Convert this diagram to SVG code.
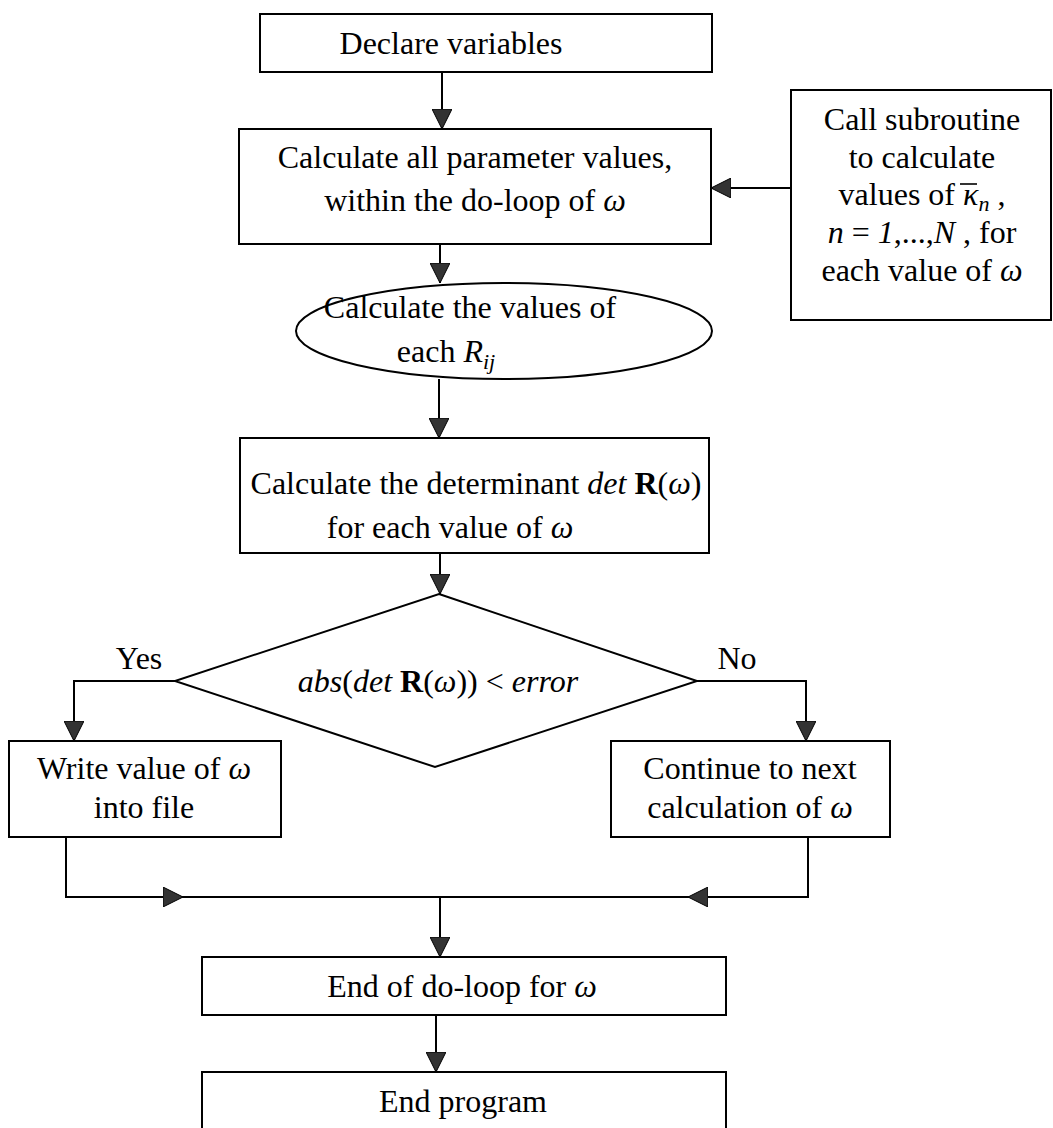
<svg xmlns="http://www.w3.org/2000/svg" width="1053" height="1128" viewBox="0 0 1053 1128">
  <defs>
    <style>
      .box { fill: #ffffff; stroke: #000000; stroke-width: 2; }
      .t { font-family: "Liberation Serif", "Times New Roman", serif; font-size: 32px; fill: #000000; text-anchor: middle; }
      .i { font-style: italic; }
      .b { font-weight: bold; }
      .wire { fill: none; stroke: #000000; stroke-width: 2; }
    </style>
    <marker id="arrow" viewBox="0 0 20 20" refX="20" refY="10" markerWidth="20" markerHeight="20" markerUnits="userSpaceOnUse" orient="auto">
      <path d="M0,0 L20,10 L0,20 Z" fill="#333333" stroke="#000000" stroke-width="1"/>
    </marker>
  </defs>

  <rect x="0" y="0" width="1053" height="1128" fill="#ffffff"/>

  <g id="declare">
    <rect class="box" x="260" y="14" width="452" height="58"/>
    <text class="t" x="451" y="54">Declare variables</text>
  </g>

  <g id="calc-params">
    <rect class="box" x="239" y="129" width="472" height="115"/>
    <text class="t" x="475" y="168">Calculate all parameter values,</text>
    <text class="t" x="475" y="211">within the do-loop of <tspan class="i">ω</tspan></text>
  </g>

  <g id="subroutine">
    <rect class="box" x="791" y="90" width="260" height="230"/>
    <text class="t" x="922" y="130">Call subroutine</text>
    <text class="t" x="922" y="168">to calculate</text>
    <text class="t" x="922" y="205">values of <tspan class="i">κ</tspan><tspan class="i" font-size="22" dy="6">n</tspan><tspan dy="-6"> ,</tspan></text>
    <!-- bar over kappa -->
    <line x1="960" y1="184" x2="977" y2="184" stroke="#000000" stroke-width="1.6"/>
    <text class="t" x="922" y="243"><tspan class="i">n</tspan> = <tspan class="i">1</tspan>,...,<tspan class="i">N</tspan> , for</text>
    <text class="t" x="922" y="281">each value of <tspan class="i">ω</tspan></text>
  </g>

  <g id="calc-rij">
    <ellipse class="box" cx="504" cy="331" rx="208" ry="48"/>
    <text class="t" x="470" y="318">Calculate the values of</text>
    <text class="t" x="446" y="362">each <tspan class="i">R</tspan><tspan class="i" font-size="22" dy="7">ij</tspan></text>
  </g>

  <g id="determinant">
    <rect class="box" x="240" y="438" width="469" height="115"/>
    <text class="t" x="476" y="494">Calculate the determinant <tspan class="i">det</tspan> <tspan class="b">R</tspan>(<tspan class="i">ω</tspan>)</text>
    <text class="t" x="450" y="538">for each value of <tspan class="i">ω</tspan></text>
  </g>

  <g id="decision">
    <polygon class="box" points="439,594 697,681 435,767 175,681"/>
    <text class="t" x="438" y="692"><tspan class="i">abs</tspan>(<tspan class="i">det</tspan> <tspan class="b">R</tspan>(<tspan class="i">ω</tspan>)) &lt; <tspan class="i">error</tspan></text>
  </g>

  <g id="write-value">
    <rect class="box" x="9" y="741" width="272" height="96"/>
    <text class="t" x="144" y="779">Write value of <tspan class="i">ω</tspan></text>
    <text class="t" x="144" y="818">into file</text>
  </g>

  <g id="continue">
    <rect class="box" x="611" y="741" width="279" height="96"/>
    <text class="t" x="750" y="779">Continue to next</text>
    <text class="t" x="750" y="818">calculation of <tspan class="i">ω</tspan></text>
  </g>

  <g id="end-loop">
    <rect class="box" x="202" y="957" width="524" height="58"/>
    <text class="t" x="462" y="997">End of do-loop for <tspan class="i">ω</tspan></text>
  </g>

  <g id="end-program">
    <rect class="box" x="202" y="1072" width="524" height="70"/>
    <text class="t" x="463" y="1112">End program</text>
  </g>

  <g id="labels">
    <text class="t" x="139" y="669">Yes</text>
    <text class="t" x="737" y="669">No</text>
  </g>

  <g id="connectors">
    <line class="wire" x1="442" y1="72" x2="442" y2="129" marker-end="url(#arrow)"/>
    <line class="wire" x1="791" y1="188" x2="711" y2="188" marker-end="url(#arrow)"/>
    <line class="wire" x1="440" y1="244" x2="440" y2="283" marker-end="url(#arrow)"/>
    <line class="wire" x1="439" y1="379" x2="439" y2="438" marker-end="url(#arrow)"/>
    <line class="wire" x1="440" y1="553" x2="440" y2="594" marker-end="url(#arrow)"/>
    <polyline class="wire" points="175,681 74,681 74,741" marker-end="url(#arrow)"/>
    <polyline class="wire" points="697,681 806,681 806,741" marker-end="url(#arrow)"/>
    <polyline class="wire" points="66,837 66,897 183,897" marker-end="url(#arrow)"/>
    <line class="wire" x1="183" y1="897" x2="440" y2="897"/>
    <polyline class="wire" points="808,837 808,897 688,897" marker-end="url(#arrow)"/>
    <line class="wire" x1="688" y1="897" x2="440" y2="897"/>
    <line class="wire" x1="440" y1="897" x2="440" y2="957" marker-end="url(#arrow)"/>
    <line class="wire" x1="436" y1="1015" x2="436" y2="1072" marker-end="url(#arrow)"/>
  </g>
</svg>
